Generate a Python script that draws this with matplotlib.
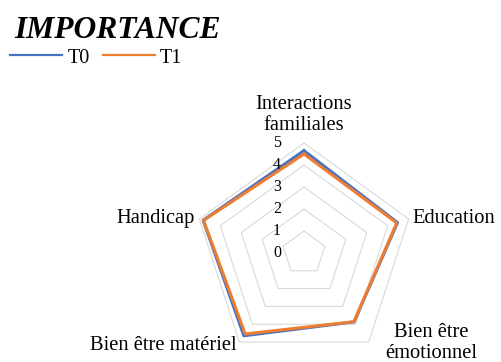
import numpy as np
import matplotlib
matplotlib.use("Agg")
import matplotlib.pyplot as plt

plt.rcParams['font.family'] = ['Liberation Serif', 'DejaVu Serif']

# data
categories = ["Interactions\nfamiliales", "Education", "Bien être\némotionnel",
              "Bien être matériel", "Handicap"]
t0 = [4.65, 4.47, 3.87, 4.65, 4.82]
t1 = [4.50, 4.43, 3.86, 4.55, 4.80]
levels = [0, 1, 2, 3, 4, 5]

# label anchors (angle in degrees clockwise from top, radius, alignment)
# anchor = baseline of the last line
label_pos = [(0, 5.59, 'center'), (74.4, 5.13, 'left'), (129.5, 7.51, 'center'),
             (214.75, 5.37, 'right'), (285.5, 5.14, 'right')]

BLUE = '#4472C4'
ORANGE = '#ED7D31'
GRID = '#d9d9d9'

W, H = 501, 362
fig = plt.figure(figsize=(W / 100, H / 100), dpi=100)

# polar axes: center at (304, 253) px, radius 110 px
cx, cy, R = 304, 253, 110
ax = fig.add_axes([(cx - R) / W, (H - cy - R) / H, 2 * R / W, 2 * R / H],
                  projection='polar')
ax.set_theta_offset(np.pi / 2)
ax.set_theta_direction(-1)
ax.set_ylim(0, 5)
ax.set_axis_off()

n = len(categories)
theta = np.linspace(0, 2 * np.pi, n, endpoint=False)
theta_c = np.append(theta, theta[0])

# pentagon grid
for lv in levels[1:]:
    ax.plot(theta_c, [lv] * (n + 1), color=GRID, lw=0.8, clip_on=False, zorder=1)

ax.plot(theta_c, t0 + t0[:1], color=BLUE, lw=2.2, clip_on=False, zorder=3, label='T0')
ax.plot(theta_c, t1 + t1[:1], color=ORANGE, lw=2.2, clip_on=False, zorder=4, label='T1')

# radial tick labels
for lv in levels:
    ax.annotate(str(lv), xy=(0, lv), xytext=(-16.5, 0), textcoords='offset points',
                ha='right', va='center', fontsize=11.5, zorder=5,
                annotation_clip=False)

# category labels
for lab, (deg, r, ha) in zip(categories, label_pos):
    ax.text(np.deg2rad(deg), r, lab, ha=ha, va='baseline', fontsize=14.8,
            multialignment='center', linespacing=1.12, clip_on=False)

fig.text(14 / W, 1 - 38 / H, 'IMPORTANCE', ha='left', va='baseline',
         fontsize=22.7, fontweight='bold', fontstyle='italic')

handles, labels = ax.get_legend_handles_labels()
leg = fig.legend(handles, labels, loc='center left', bbox_to_anchor=(10 / W, 1 - 58 / H),
                 ncol=2, frameon=False, fontsize=14.5, borderpad=0, borderaxespad=0,
                 handlelength=2.6, handletextpad=0.25, columnspacing=0.65)
for line in leg.get_lines():
    line.set_linewidth(1.6)

fig.savefig('out.png', dpi=100)
